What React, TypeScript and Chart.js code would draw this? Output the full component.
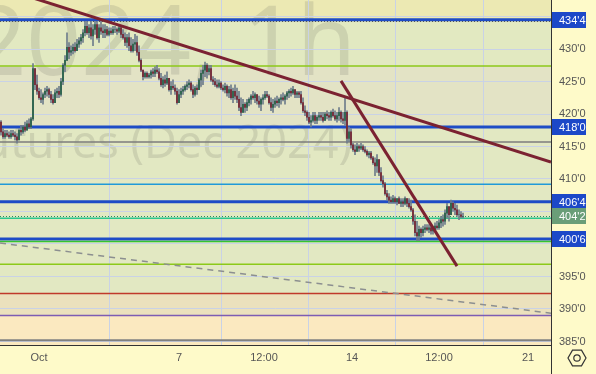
import React, { useEffect, useRef } from 'react';
import { Chart, registerables } from 'chart.js';
Chart.register(...registerables);

const W = 596;
const H = 374;

// ---- hourly OHLC bars (Dec 2024 corn futures) ----
const opens = [
  418.75, 417.25, 416.5, 417, 416.75, 416.5, 417, 416.75, 416.5, 416, 417.5, 417.25, 418, 417.5, 418.5, 418,
  419.25, 427, 424.5, 423.5, 422.5, 422.25, 423, 423.5, 423.75, 423, 422.25, 421.75, 423.25, 423.5, 423, 425,
  427.5, 428.25, 430.25, 429.5, 429.75, 430.25, 429.75, 430.75, 431.25, 431.75, 432.5, 433.5, 432.5, 433.25, 432, 433,
  433.75, 431.75, 433.25, 432.75, 432.5, 433, 432.25, 432.75, 432.5, 433, 433, 432.75, 433.25, 432.25, 431.75, 431,
  431.75, 430.5, 429.75, 430.75, 431, 429.5, 428.25, 426.75, 425.75, 426.25, 425.75, 426, 426.5, 426.25, 426.75, 426.5,
  425.5, 424.5, 425.25, 424.75, 425.5, 423.75, 424.25, 424, 423.5, 421.75, 423, 423.5, 423.75, 424.25, 424.5, 424.75,
  423.75, 423, 424, 423.75, 425.25, 426.25, 426.75, 427.5, 426.5, 427, 425.25, 425, 424.5, 424.25, 424.75, 424,
  423.75, 424.25, 423.25, 423.75, 422.5, 423.5, 422.75, 422.25, 421, 420.25, 421.5, 421, 421.75, 422.25, 422.75, 422.5,
  423, 422, 421.5, 422.25, 422.5, 423, 422.75, 421.75, 421, 421.5, 422, 421.75, 422.25, 422.5, 422.25, 422.75,
  423.25, 423.5, 423.25, 423.75, 423, 423.25, 423, 421.75, 420.5, 420.25, 419.5, 418.75, 419, 419.75, 419, 419.5,
  419.75, 419.5, 419, 420, 419.75, 419.5, 420.25, 419.75, 419.25, 419.75, 420.25, 419.25, 419, 420.25, 416.25, 417.25,
  415.25, 414.5, 414.25, 415, 414.75, 415, 414.5, 414.25, 413.75, 414, 413.25, 412.5, 412, 413, 411, 409.75,
  409.25, 407.75, 407.25, 406.75, 406.5, 407, 406.5, 407, 406.25, 406.5, 406.25, 407, 406.25, 405.75, 405.25, 403.5,
  401.75, 401.25, 402.25, 401.75, 402.25, 402.5, 402.25, 402.5, 402, 402.25, 402.75, 402.5, 403.25, 403.75, 403.5, 404.75,
  405.75, 404.5, 406.25, 405.5, 405.25, 404.5, 404.5, 404.25,
];
const highs = [
  419, 417.75, 417.5, 417.5, 417.25, 417.5, 417.5, 417.25, 417, 417.75, 418.25, 418.25, 418.75, 419, 419.25, 419.5,
  427.75, 427, 426, 424, 423.75, 423.25, 424, 424.25, 424, 423.5, 423, 423.75, 424, 424.25, 425.5, 427.75,
  429, 432.5, 431, 430.5, 430.75, 431, 431.5, 431.75, 432.25, 433, 434.25, 434.25, 433.75, 434.25, 433.75, 434.25,
  434.25, 433.75, 434.25, 433.75, 433.75, 433.5, 433.25, 433.25, 433.5, 433.5, 433.25, 433.75, 433.5, 433, 432.5, 432.25,
  432.5, 431.75, 431.5, 432.25, 432, 430.5, 428.5, 426.75, 426.5, 426.5, 426.25, 426.75, 427, 427.25, 427.5, 427,
  426.25, 425.75, 426, 426.5, 425.5, 425, 425.25, 424.5, 424, 423.75, 424, 424.25, 424.5, 425, 425.25, 425,
  424.5, 424.25, 424.5, 425.5, 426.75, 427.5, 428, 427.75, 427.5, 427.5, 425.75, 425.5, 425.25, 425.25, 425, 424.5,
  424.75, 424.5, 424.25, 424.5, 424, 424.5, 424, 423.5, 422.5, 422.25, 421.75, 422.25, 422.5, 423, 423.5, 423.25,
  423, 422.75, 422.5, 423, 423.5, 423.5, 423, 422.5, 422.25, 422.5, 422.75, 422.5, 423, 423.25, 423, 423.5,
  423.75, 424, 424.25, 423.75, 423.5, 423.5, 423.5, 422.5, 421.25, 420.5, 420.25, 419.75, 420.25, 420.25, 419.75, 420.25,
  420.25, 420.25, 420.25, 420.5, 420.25, 420.5, 420.75, 420.5, 420.25, 421, 420.5, 420.25, 422.5, 420.5, 418, 417.75,
  415.5, 415.25, 415.5, 415.25, 415.5, 415.25, 415, 414.5, 414.25, 414.25, 413.5, 413.25, 413.75, 413, 411.75, 410.5,
  409.5, 408.25, 407.75, 407.25, 407.5, 407.25, 407, 407.25, 407, 407, 407.25, 407, 407, 406.75, 405.5, 404.5,
  403.5, 402.75, 402.5, 402.75, 403, 403, 403, 402.75, 402.5, 403.25, 403.5, 403.75, 404.25, 404.5, 405.25, 406.25,
  405.75, 406.75, 406.5, 406.25, 406, 405.25, 405, 404.75,
];
const lows = [
  416.75, 416.25, 416.25, 416.5, 416.25, 416.25, 416.5, 416, 415.5, 416, 416.75, 417, 417.25, 417.5, 417.75, 417.75,
  419, 423.75, 423, 422.25, 421.75, 421.5, 422.5, 422.75, 422.5, 421.75, 421.5, 421.75, 422.5, 422.5, 422.75, 424.5,
  426.5, 428.25, 428.5, 429, 429.25, 429.5, 429.75, 430.25, 430.75, 431, 432, 432.25, 431.75, 431.5, 430.5, 432.25,
  431.5, 431, 432.25, 431.75, 431.75, 432, 432, 432.25, 432.25, 432.5, 432.25, 432.5, 431.75, 431.5, 430.5, 430.25,
  429.75, 429.5, 429.5, 429.75, 429, 428, 426.5, 425.25, 425.5, 425.5, 425.5, 425.5, 425.75, 425.75, 426.25, 425.25,
  424.25, 424, 424.25, 424.5, 423.5, 423, 423.75, 423, 421.5, 421.75, 422.5, 423, 423.5, 423.75, 424, 423.5,
  422.5, 422.75, 423, 423.75, 424.25, 424.5, 425.75, 425.5, 426, 425, 424.5, 424.25, 424, 424, 423.75, 423.5,
  423.25, 422.75, 422.5, 422.25, 421.75, 422.25, 421.75, 420.5, 419.75, 420.25, 420.25, 420.5, 421.25, 421.5, 422.25, 421.75,
  421.5, 421, 420.5, 421.5, 422.25, 422.5, 421.5, 420.5, 420.25, 421, 421.25, 421, 421.5, 422, 421.5, 422.25,
  422.5, 422.75, 423, 422.5, 422.5, 422.5, 421.5, 420.25, 419.75, 419, 418.5, 418, 418.75, 418.5, 418.5, 419,
  419, 418.75, 419, 419.25, 419, 419, 419.5, 419, 418.75, 419, 418.75, 418.5, 418.25, 415.5, 415.75, 414.75,
  414.25, 413.75, 414.25, 414.25, 414.5, 414.25, 414, 413.5, 413.25, 413, 412.25, 410.5, 411, 410.5, 409.5, 408.75,
  407.5, 406.75, 406.25, 406.25, 406.25, 406.25, 406, 406.25, 405.75, 405.75, 406, 405.75, 405.5, 405, 403, 401.25,
  400.5, 400.5, 401, 401.25, 401.75, 402, 401.75, 401.5, 401.5, 402, 402.25, 402.25, 402.5, 402.75, 403, 404,
  403.5, 404.5, 405, 404.5, 404.25, 403.75, 404, 404,
];
const closes = [
  417.25, 416.5, 417, 416.75, 416.5, 417, 416.75, 416.5, 416, 417.5, 417.25, 418, 417.5, 418.5, 418, 419.25,
  427, 424.5, 423.5, 422.5, 422.25, 423, 423.5, 423.75, 423, 422.25, 421.75, 423.25, 423.5, 423, 425, 427.5,
  428.25, 430.25, 429.5, 429.75, 430.25, 429.75, 430.75, 431.25, 431.75, 432.5, 433.5, 432.5, 433.25, 432, 433, 433.75,
  431.75, 433.25, 432.75, 432.5, 433, 432.25, 432.75, 432.5, 433, 433, 432.75, 433.25, 432.25, 431.75, 431, 431.75,
  430.5, 429.75, 430.75, 431, 429.5, 428.25, 426.75, 425.75, 426.25, 425.75, 426, 426.5, 426.25, 426.75, 426.5, 425.5,
  424.5, 425.25, 424.75, 425.5, 423.75, 424.25, 424, 423.5, 421.75, 423, 423.5, 423.75, 424.25, 424.5, 424.75, 423.75,
  423, 424, 423.75, 425.25, 426.25, 426.75, 427.5, 426.5, 427, 425.25, 425, 424.5, 424.25, 424.75, 424, 423.75,
  424.25, 423.25, 423.75, 422.5, 423.5, 422.75, 422.25, 421, 420.25, 421.5, 421, 421.75, 422.25, 422.75, 422.5, 423,
  422, 421.5, 422.25, 422.5, 423, 422.75, 421.75, 421, 421.5, 422, 421.75, 422.25, 422.5, 422.25, 422.75, 423.25,
  423.5, 423.25, 423.75, 423, 423.25, 423, 421.75, 420.5, 420.25, 419.5, 418.75, 419, 419.75, 419, 419.5, 419.75,
  419.5, 419, 420, 419.75, 419.5, 420.25, 419.75, 419.25, 419.75, 420.25, 419.25, 419, 420.25, 416.25, 417.25, 415.25,
  414.5, 414.25, 415, 414.75, 415, 414.5, 414.25, 413.75, 414, 413.25, 412.5, 412, 413, 411, 409.75, 409.25,
  407.75, 407.25, 406.75, 406.5, 407, 406.5, 407, 406.25, 406.5, 406.25, 407, 406.25, 405.75, 405.25, 403.5, 401.75,
  401.25, 402.25, 401.75, 402.25, 402.5, 402.25, 402.5, 402, 402.25, 402.75, 402.5, 403.25, 403.75, 403.5, 404.75, 405.75,
  404.5, 406.25, 405.5, 405.25, 404.5, 404.5, 404.25, 404.25,
];

// ---- axes ----
const X_MAX = 275.5; // bar slots across the pane
const xTickPos = [19.5, 89.5, 132, 176, 219.5, 264];
const xTickLabels = ['Oct', '7', '12:00', '14', '12:00', '21'];
const Y_MIN = 384.46;
const Y_MAX = 437.54;
const yHiddenTicks = [435, 405, 400, 385];
const yClippedTick = 385;

// ---- drawings ----
const levelPrices = [434.5, 427.4, 418, 415.7, 409.2, 406.5, 403.95, 400.75, 400.4, 396.9, 392.4, 389.0, 385.2];
const levelColors = ['#1e4cc6', '#8cc919', '#1e4cc6', '#7d7d7d', '#1f9ad8', '#1e4cc6', '#2cc88e', '#1e4cc6', '#34c234', '#8cc919', '#c0392b', '#7d5cb3', '#808080'];
const levelWidths = [3, 1.5, 3, 1.5, 1.5, 3, 1.5, 3, 1.5, 1.5, 1.5, 1.5, 2];
const dottedPrices = [434.3, 404.25];
const dottedColors = ['#555555', '#2a8a60'];
const boxPrices = [434.5, 418, 406.5, 404.25, 400.75];
const boxColors = ['#1c48c8', '#1c48c8', '#1c48c8', '#6a9e78', '#1c48c8'];
const bandEdges = [445, 434.5, 427.4, 418, 392.4, 389.0, 370];
const bandColors = ['#ece9b3', '#e2e9c1', '#e3e3c5', '#e2e8c2', '#ebe1bd', '#fbe9c0'];
const trend1 = [{ x: 15, y: 438.0 }, { x: 275.5, y: 412.6 }];
const trend2 = [{ x: 170.5, y: 425.1 }, { x: 228.5, y: 396.6 }];
const dashedLine = [{ x: 0, y: 400.15 }, { x: 275.5, y: 389.35 }];

const fmt = (p: number) => {
  const w = Math.floor(p + 1e-9);
  return `${w}'${Math.round((p - w) * 8)}`;
};

const TICK_FONT = { family: '"Liberation Sans", Arial, sans-serif', size: 11 };

export default function App() {
  const ref = useRef<HTMLCanvasElement>(null);
  useEffect(() => {
    document.body.style.margin = '0';
    const canvas = ref.current!;
    const UP = '#245f44';
    const DOWN = '#76202d';
    const WICK = '#6f7d8c';

    const plugin = {
      id: 'tvDecor',
      beforeDraw(chart: any) {
        const { ctx, chartArea: a } = chart;
        const y = chart.scales.y;
        ctx.save();
        ctx.fillStyle = '#fefac9';
        ctx.fillRect(0, 0, W, H);
        for (let k = 0; k < bandColors.length; k++) {
          const t = Math.max(a.top, y.getPixelForValue(bandEdges[k]));
          const b = Math.min(a.bottom, y.getPixelForValue(bandEdges[k + 1]));
          if (b > t) {
            ctx.fillStyle = bandColors[k];
            ctx.fillRect(a.left, t, a.right - a.left, b - t);
          }
        }
        ctx.beginPath();
        ctx.rect(a.left, a.top, a.right - a.left, a.bottom - a.top);
        ctx.clip();
        ctx.fillStyle = 'rgba(110,112,100,0.19)';
        ctx.textAlign = 'right';
        ctx.textBaseline = 'alphabetic';
        ctx.font = '96px "Noto Sans"';
        ctx.fillText('ZCZ2024, 1h', 356, 75);
        ctx.font = '45px "Noto Sans"';
        ctx.fillText('Corn Futures (Dec 2024)', 352, 158);
        ctx.restore();
      },
      beforeDatasetsDraw(chart: any) {
        const { ctx, chartArea: a } = chart;
        const y = chart.scales.y;
        ctx.save();
        for (let k = 0; k < levelPrices.length; k++) {
          const py = y.getPixelForValue(levelPrices[k]);
          ctx.strokeStyle = levelColors[k];
          ctx.lineWidth = levelWidths[k];
          ctx.beginPath();
          ctx.moveTo(a.left, py);
          ctx.lineTo(a.right, py);
          ctx.stroke();
        }
        ctx.setLineDash([1, 2]);
        ctx.lineWidth = 1;
        for (let k = 0; k < dottedPrices.length; k++) {
          const py = Math.round(y.getPixelForValue(dottedPrices[k])) + 0.5;
          ctx.strokeStyle = dottedColors[k];
          ctx.beginPath();
          ctx.moveTo(a.left, py);
          ctx.lineTo(a.right, py);
          ctx.stroke();
        }
        ctx.restore();
      },
      afterDraw(chart: any) {
        const { ctx, chartArea: a } = chart;
        const y = chart.scales.y;
        ctx.save();
        // lowest price label, clipped by the time-axis row
        ctx.save();
        ctx.beginPath();
        ctx.rect(a.right + 1, a.top, W - a.right, a.bottom - a.top);
        ctx.clip();
        ctx.font = '11px "Liberation Sans", Arial, sans-serif';
        ctx.fillStyle = '#555';
        ctx.textAlign = 'left';
        ctx.textBaseline = 'middle';
        ctx.fillText(fmt(yClippedTick), a.right + 8, y.getPixelForValue(yClippedTick));
        ctx.restore();

        ctx.strokeStyle = '#333';
        ctx.lineWidth = 1;
        ctx.beginPath();
        ctx.moveTo(a.right + 0.5, a.bottom);
        ctx.lineTo(a.right + 0.5, H);
        ctx.stroke();
        ctx.font = '11px "Liberation Sans", Arial, sans-serif';
        ctx.textBaseline = 'middle';
        ctx.textAlign = 'left';
        for (let k = 0; k < boxPrices.length; k++) {
          const py = y.getPixelForValue(boxPrices[k]);
          ctx.fillStyle = boxColors[k];
          ctx.fillRect(a.right + 1, Math.round(py) - 8, 34, 16);
          ctx.fillStyle = '#ffffff';
          ctx.fillText(fmt(boxPrices[k]), a.right + 8, Math.round(py) + 0.5);
        }
        const cx = 577, cy = 358, r = 9;
        ctx.strokeStyle = '#333';
        ctx.lineWidth = 1.2;
        ctx.beginPath();
        for (let i = 0; i < 6; i++) {
          const ang = (Math.PI / 3) * i;
          const px = cx + r * Math.cos(ang);
          const pyy = cy + r * Math.sin(ang);
          if (i === 0) ctx.moveTo(px, pyy);
          else ctx.lineTo(px, pyy);
        }
        ctx.closePath();
        ctx.stroke();
        ctx.beginPath();
        ctx.arc(cx, cy, 3.2, 0, Math.PI * 2);
        ctx.stroke();
        ctx.restore();
      },
    };

    const chart = new Chart(canvas, {
      type: 'bar',
      data: {
        datasets: [
          { type: 'line', data: trend1, borderColor: '#7b2231', borderWidth: 3, pointRadius: 0, order: 0 } as any,
          { type: 'line', data: trend2, borderColor: '#7b2231', borderWidth: 3, pointRadius: 0, order: 0 } as any,
          {
            type: 'line',
            data: dashedLine,
            borderColor: '#8c8f90',
            borderWidth: 1.5,
            borderDash: [6, 5],
            pointRadius: 0,
            order: 0,
          } as any,
          {
            type: 'bar',
            data: opens.map((o, i) => ({ x: i + 0.5, y: [o, closes[i]] })),
            backgroundColor: opens.map((o, i) => (closes[i] >= o ? UP : DOWN)),
            barThickness: 1,
            grouped: false,
            order: 1,
          } as any,
          {
            type: 'bar',
            data: highs.map((h, i) => ({ x: i + 0.5, y: [lows[i], h] })),
            backgroundColor: WICK,
            barThickness: 1,
            grouped: false,
            order: 2,
          } as any,
        ],
      },
      options: {
        responsive: false,
        animation: false,
        devicePixelRatio: 1,
        layout: { padding: 0 },
        plugins: { legend: { display: false }, tooltip: { enabled: false } },
        scales: {
          x: {
            type: 'linear',
            min: 0,
            max: X_MAX,
            offset: false,
            grid: { color: '#c9d2e6', drawTicks: false, lineWidth: 1 },
            border: { color: '#333', width: 1 },
            ticks: {
              autoSkip: false,
              maxRotation: 0,
              padding: 6,
              color: '#555',
              font: TICK_FONT,
              callback: (_v: any, i: number) => xTickLabels[i],
            },
            afterBuildTicks: (s: any) => {
              s.ticks = xTickPos.map((v) => ({ value: v }));
            },
            afterFit: (s: any) => {
              s.height = 29;
              s.paddingLeft = 0;
              s.paddingRight = 0;
            },
          },
          y: {
            type: 'linear',
            position: 'right',
            min: Y_MIN,
            max: Y_MAX,
            grid: { color: '#c9d2e6', drawTicks: false, lineWidth: 1 },
            border: { color: '#333', width: 1 },
            ticks: {
              stepSize: 5,
              includeBounds: false,
              padding: 8,
              color: '#555',
              font: TICK_FONT,
              callback: (v: any) => (yHiddenTicks.includes(Number(v)) ? '' : fmt(Number(v))),
            },
            afterFit: (s: any) => {
              s.width = 45;
              s.paddingTop = 0;
              s.paddingBottom = 0;
            },
          },
        },
      } as any,
      plugins: [plugin],
    });
    return () => chart.destroy();
  }, []);

  return (
    <div style={{ width: W, height: H }}>
      <canvas ref={ref} width={W} height={H} style={{ display: 'block', width: W, height: H }} />
    </div>
  );
}
